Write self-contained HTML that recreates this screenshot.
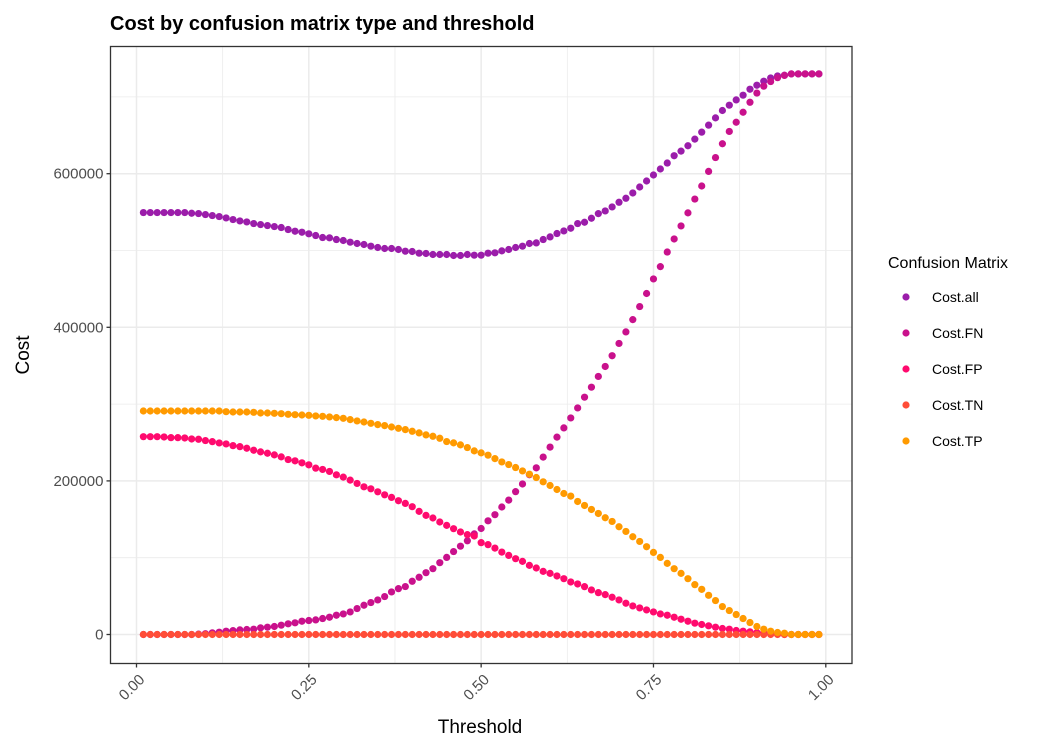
<!DOCTYPE html>
<html><head><meta charset="utf-8">
<style>
html,body{margin:0;padding:0;background:#fff;}
svg{display:block;font-family:"Liberation Sans",Arial,sans-serif;}
</style></head>
<body>
<svg id="chart" width="1050" height="750" viewBox="0 0 1050 750">
  <rect x="0" y="0" width="1050" height="750" fill="#fff"/>
  <text x="110" y="30" font-size="20" font-weight="bold" fill="#000">Cost by confusion matrix type and threshold</text>
  <g id="grid"></g>
  <g id="marks"></g>
  <rect x="110.5" y="46.5" width="741.5" height="617" fill="none" stroke="#333" stroke-width="1.3"/>
  <g id="axes"></g>
  <text x="480" y="733" font-size="19" text-anchor="middle" fill="#000">Threshold</text>
  <text x="0" y="0" font-size="19" text-anchor="middle" fill="#000" transform="translate(29,355) rotate(-90)">Cost</text>
  <g id="legend">
    <text x="888" y="268" font-size="16" fill="#000">Confusion Matrix</text>
  </g>
</svg>
<script>
const thresholds = [];
for (let i = 1; i <= 99; i++) thresholds.push(i / 100);
const seriesNames = ["Cost.all", "Cost.FN", "Cost.FP", "Cost.TN", "Cost.TP"];
const seriesColors = ["#9B1DAA", "#C9118C", "#FF0A6E", "#FF4D38", "#FF9A00"];
// values in thousands
const costAll = [549.4,549.4,549.4,549.4,549.4,549.4,549.4,548.5,548.1,546.8,545.5,544.2,542.4,540.3,538.5,537.2,535.1,533.8,532.5,531.2,529.9,527.3,525.1,523.8,521.7,519.5,516.9,516.5,514.3,513,510.8,509.1,507.8,505.6,503.9,502.6,502.6,501.3,499.1,498.7,496.5,496.1,494.8,494.8,494.8,493.5,493.5,494.8,493.9,493.9,496.5,
497,499.5,501.3,503.9,505.6,509.1,509.9,514.3,517.7,522.1,525.5,529,535.1,536.8,542,548,551.5,556.7,562.8,568,574.9,582.7,590.5,598.3,606.1,613.9,623.4,629.4,636.4,645,654.1,663.2,672.7,682.3,689.2,696.1,702.2,710,715.2,720.4,724.7,727.3,728.2,729.9,729.9,729.9,729.9,729.9];
const costFN = [0,0,0,0,0,0,0,0,0.5,1,2.2,3,4.3,5,6,6.5,6.9,8.7,9.5,10.4,12.1,13.9,15.2,17.3,18.2,19,20.8,22.5,25.1,26.8,29.4,33.8,38.1,41.6,45,49.4,55.4,59.7,62.4,69.3,74.5,80.5,85.7,93.5,100.4,108,115,122,131,138,148,
156,166,175,186,196,208,217,231,244,257,269,282,295,309,322,336,349,363,379,394,410,427,444,463,479,498,515,532,549,567,584,603,621,639,655,667,680,693,705,714,720,725,728,730,730,730,730,730];
const costFP = [257.6,257.6,257.6,257.2,256.3,256.3,255.9,254.6,254.2,252.5,251.1,249.4,248.1,245.9,244.6,242.5,239.9,237.8,236,233.9,231.3,227.8,226.1,223.5,220.9,216.6,214.9,212.3,207.9,204.9,201,196.7,192.3,189.7,185.8,181.9,178.5,174.2,170.7,166.4,160.3,155.1,151.7,146.5,142.1,137.8,133.5,130,128.3,119.6,117,
112.5,107.3,103,98.7,95.2,90,86.6,82.2,79.6,76.2,72.7,68.4,65.8,62.3,58,54.5,51.9,48.5,45,40.7,37.2,34.6,32,29.4,26.8,25.1,22.5,19.9,17.3,14.7,13,11.3,9.5,7.8,6.9,5.2,4.3,3.5,2.6,2.2,1.7,0.5,0,0,0,0,0,0];
const costTN = [0,0,0,0,0,0,0,0,0,0,0,0,0,0,0,0,0,0,0,0,0,0,0,0,0,0,0,0,0,0,0,0,0,0,0,0,0,0,0,0,0,0,0,0,0,0,0,0,0,0,0,0,0,0,0,0,0,0,0,0,0,0,0,0,0,0,0,0,0,0,0,0,0,0,0,0,0,0,0,0,0,0,0,0,0,0,0,0,0,0,0,0,0,0,0,0,0,0,0];
const costTP = [291,291,291,291,291,291,291,291,291,291,291,291,290.1,289.7,289.7,289.7,289.3,288.4,288.4,288,287.5,286.7,286.2,285.8,285.4,284.6,284.1,283.3,282.4,281.5,279.8,278.1,276.7,275,273.3,272,270.2,268.5,266.8,264.6,262.5,259.9,258.1,255.5,251.2,249.5,246.9,243.4,239.1,236.5,233.5,
229,224.7,221.3,217.4,213,208.7,204.4,198.8,194,188.8,183.6,180.2,173.2,168,162.8,157.6,152,147.2,140.3,134.2,127.3,121.2,114.3,106.9,100.4,92.6,85.7,79.6,72.7,64.9,58.8,51,44.2,36.4,31.2,26,20.8,15.6,10.4,6.9,4.3,2.6,1.7,0,0,0,0,0];
const xTicks = [0, 0.25, 0.5, 0.75, 1];
const xTickLabels = ["0.00", "0.25", "0.50", "0.75", "1.00"];
const xMinor = [0.125, 0.375, 0.625, 0.875];
const yTicks = [0, 200000, 400000, 600000];
const yTickLabels = ["0", "200000", "400000", "600000"];
const yMinor = [100000, 300000, 500000, 700000];

const NS = "http://www.w3.org/2000/svg";
function xs(v) { return 136.5 + v * 689.3; }
function ys(v) { return 634.5 - v * (460.8 / 600000); }
function mk(tag, attrs, parent) {
  const e = document.createElementNS(NS, tag);
  for (const k in attrs) e.setAttribute(k, attrs[k]);
  parent.appendChild(e);
  return e;
}
const grid = document.getElementById("grid");
const L = 110.5, R = 852, T = 46.5, B = 663.5;
yMinor.forEach(v => {
  const l = mk("line", {x1: L, x2: R, y1: ys(v), y2: ys(v), stroke: "#ebebeb", "stroke-width": 0.8}, grid);
  
  
});
xMinor.forEach(v => {
  const l = mk("line", {x1: xs(v), x2: xs(v), y1: T, y2: B, stroke: "#ebebeb", "stroke-width": 0.8}, grid);
  
  
});
yTicks.forEach(v => {
  const l = mk("line", {x1: L, x2: R, y1: ys(v), y2: ys(v), stroke: "#ebebeb", "stroke-width": 1.5}, grid);
  
  
});
xTicks.forEach(v => {
  const l = mk("line", {x1: xs(v), x2: xs(v), y1: T, y2: B, stroke: "#ebebeb", "stroke-width": 1.5}, grid);
  
  
});

const marks = document.getElementById("marks");
const allSeries = [costAll, costFN, costFP, costTN, costTP];
allSeries.forEach((vals, si) => {
  const g = mk("g", {fill: seriesColors[si]}, marks);
  
  
  vals.forEach((v, i) => {
    const c = mk("circle", {cx: xs(thresholds[i]), cy: ys(v * 1000), r: 3.6}, g);
    
    
  });
});

const axes = document.getElementById("axes");
yTicks.forEach((v, i) => {
  const t = mk("line", {x1: L - 4, x2: L, y1: ys(v), y2: ys(v), stroke: "#333", "stroke-width": 1.3}, axes);
  
  
  const tx = mk("text", {x: L - 7, y: ys(v) + 5, "font-size": 15, "text-anchor": "end", fill: "#4d4d4d"}, axes);
  tx.textContent = yTickLabels[i];
  
  
});
xTicks.forEach((v, i) => {
  const t = mk("line", {x1: xs(v), x2: xs(v), y1: B, y2: B + 4, stroke: "#333", "stroke-width": 1.3}, axes);
  
  
  const tx = mk("text", {x: 0, y: 0, "font-size": 15, "text-anchor": "end", fill: "#4d4d4d",
    transform: "translate(" + (xs(v) + 9) + "," + (B + 17) + ") rotate(-45)"}, axes);
  tx.textContent = xTickLabels[i];
  
  
});

const legend = document.getElementById("legend");
seriesNames.forEach((n, i) => {
  const y = 297 + i * 36;
  const c = mk("circle", {cx: 906, cy: y, r: 3.6, fill: seriesColors[i]}, legend);
  
  
  const t = mk("text", {x: 932, y: y + 5, "font-size": 14, fill: "#000"}, legend);
  t.textContent = n;
  
  
});
</script>
</body></html>
